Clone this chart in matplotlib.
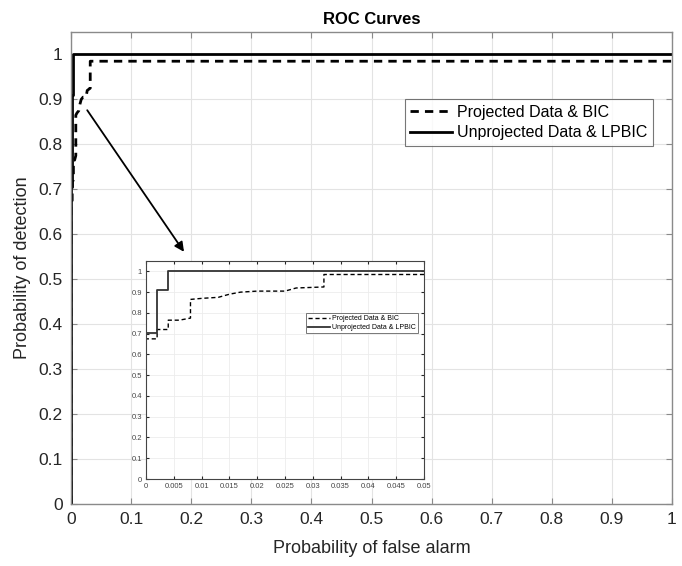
import matplotlib
matplotlib.use("Agg")
import matplotlib.pyplot as plt

plt.rcParams['font.family'] = ['Liberation Sans', 'DejaVu Sans']

# Data
proj_fpr = [0, 0, 0.002, 0.002, 0.004, 0.004, 0.006, 0.008, 0.008, 0.010, 0.013,
            0.015, 0.017, 0.020, 0.025, 0.027, 0.032, 0.032, 1.0]
proj_tpr = [0, 0.675, 0.675, 0.72, 0.72, 0.765, 0.765, 0.775, 0.865, 0.87, 0.875,
            0.89, 0.90, 0.905, 0.905, 0.92, 0.925, 0.985, 0.985]
unproj_fpr = [0, 0, 0.002, 0.002, 0.004, 0.004, 1.0]
unproj_tpr = [0, 0.705, 0.705, 0.91, 0.91, 1.0, 1.0]

main_xticks = [0, 0.1, 0.2, 0.3, 0.4, 0.5, 0.6, 0.7, 0.8, 0.9, 1]
main_xlabels = ['0', '0.1', '0.2', '0.3', '0.4', '0.5', '0.6', '0.7', '0.8', '0.9', '1']
main_yticks = main_xticks
main_ylabels = main_xlabels
inset_xticks = [0, 0.005, 0.01, 0.015, 0.02, 0.025, 0.03, 0.035, 0.04, 0.045, 0.05]
inset_xlabels = ['0', '0.005', '0.01', '0.015', '0.02', '0.025', '0.03', '0.035', '0.04', '0.045', '0.05']

label_proj = 'Projected Data & BIC'
label_unproj = 'Unprojected Data & LPBIC'

dark = '#262626'
spinec = '#8a8a8a'
gridc = '#e3e3e3'

fig = plt.figure(figsize=(6.82, 5.66), dpi=100)
ax = fig.add_axes([71/682, 1-504/566, (672-71)/682, (504-32)/566])

ax.plot(proj_fpr, proj_tpr, color='black', lw=2.0, ls=(0, (3, 2.2)), label=label_proj)
ax.plot(unproj_fpr, unproj_tpr, color='black', lw=2.0, ls='-', label=label_unproj)
ax.set_xlim(0, 1)
ax.set_ylim(0, 1.05)
ax.set_xticks(main_xticks)
ax.set_xticklabels(main_xlabels)
ax.set_yticks(main_yticks)
ax.set_yticklabels(main_ylabels)
ax.grid(True, color=gridc, lw=0.8)
ax.set_axisbelow(True)
ax.tick_params(direction='in', top=True, right=True, length=4, labelsize=12.5,
               colors=spinec, labelcolor=dark, pad=6)
for s in ax.spines.values():
    s.set_color(spinec)
    s.set_linewidth(1.0)
ax.set_xlabel('Probability of false alarm', fontsize=13, color=dark, labelpad=9)
ax.set_ylabel('Probability of detection', fontsize=13, color=dark, labelpad=5)
ax.set_title('ROC Curves', fontsize=12, fontweight='bold', color='black', pad=6)
leg = ax.legend(loc='upper right', bbox_to_anchor=(0.968, 0.858), fontsize=11.5,
                frameon=True, fancybox=False, handlelength=2.6, handletextpad=0.3,
                borderpad=0.35, labelspacing=0.35, borderaxespad=0)
leg.get_frame().set_edgecolor('#555555')
leg.get_frame().set_linewidth(0.8)

ax.annotate('', xy=(0.188, 0.561), xytext=(0.027, 0.876),
            arrowprops=dict(arrowstyle='-|>', color='black', lw=1.3,
                            mutation_scale=14, shrinkA=0, shrinkB=0))

# Inset
ins = fig.add_axes([146/682, 1-479/566, (424-146)/682, (479-261)/566])
ins.set_facecolor('white')
ins.plot(proj_fpr, proj_tpr, color='black', lw=1.0, ls=(0, (3, 2)), label=label_proj)
ins.plot(unproj_fpr, unproj_tpr, color='#333333', lw=1.3, ls='-', label=label_unproj)
ins.set_xlim(0, 0.05)
ins.set_ylim(0, 1.05)
ins.set_xticks(inset_xticks)
ins.set_xticklabels(inset_xlabels)
ins.set_yticks(main_yticks)
ins.set_yticklabels(main_ylabels)
ins.grid(True, color='#ececec', lw=0.6)
ins.set_axisbelow(True)
ins.tick_params(direction='in', top=True, right=True, length=2.5, labelsize=5.5,
                colors=dark, labelcolor='#444444', pad=3)
for s in ins.spines.values():
    s.set_color('#444444')
    s.set_linewidth(0.8)
ileg = ins.legend(loc='upper right', bbox_to_anchor=(0.978, 0.762), fontsize=5,
                  frameon=True, fancybox=False, handlelength=3.2, handletextpad=0.3,
                  borderpad=0.3, labelspacing=0.3, borderaxespad=0)
ileg.get_frame().set_edgecolor('#555555')
ileg.get_frame().set_linewidth(0.7)

fig.savefig('out.png', dpi=100)
